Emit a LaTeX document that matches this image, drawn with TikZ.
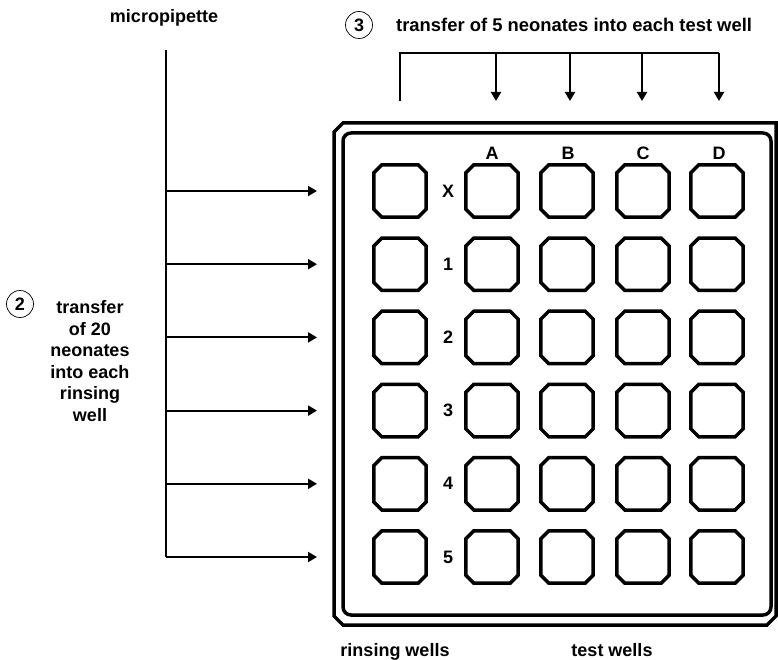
\documentclass[tikz,border=0pt]{standalone}
\usepackage{fontspec}
\setmainfont{Liberation Sans}
\usetikzlibrary{arrows.meta}
\begin{document}
\begin{tikzpicture}[x=1pt,y=-1pt,
  every node/.style={font=\fontsize{18}{21.6}\selectfont\bfseries, inner sep=0pt},
  wellbox/.style={minimum width=52pt, minimum height=52pt},
  wellline/.style={line width=3.5pt, line join=miter},
  arr/.style={line width=2pt, -{Triangle[length=9pt,width=10pt]}},
  plain/.style={line width=2pt},
  num/.style={draw, circle, line width=0.7pt, minimum size=27pt, font=\fontsize{18}{18}\selectfont\bfseries},
  plateline/.style={line width=3.5pt}]
\useasboundingbox (0,0) rectangle (778,660);
\newcommand{\octwell}[1]{%
  \draw[wellline] ([xshift=8pt]#1.north west) -- ([xshift=-8pt]#1.north east)
    -- ([yshift=-8pt]#1.north east) -- ([yshift=8pt]#1.south east)
    -- ([xshift=-8pt]#1.south east) -- ([xshift=8pt]#1.south west)
    -- ([yshift=8pt]#1.south west) -- ([yshift=-8pt]#1.north west) -- cycle;}
% plate
\draw[plateline] (334,132) -- (343,123) -- (776,123) -- (776,616) -- (767,625) -- (343,625) -- (334,616) -- cycle;
\draw[plateline, rounded corners=8pt] (343,133) rectangle (771,615);
% wells
\foreach \lab [count=\i from 0] in {X,1,2,3,4,5} {
  \pgfmathsetmacro{\yy}{191+\i*73.2}
  \node[wellbox] (rw\i) at (400,\yy) {};
  \octwell{rw\i}
  \node (rl\i) at (448,\yy) {\lab};
  \foreach \c/\cx in {A/492,B/567,C/643,D/717} {
    \node[wellbox] (w\c\i) at (\cx,\yy) {};
    \octwell{w\c\i}
  }
  \coordinate (s\i) at (166,\yy);
  \coordinate (t\i) at (317,\yy);
  \draw[arr] (s\i) -- (t\i);
}
\node (cA) at (492,153) {A};
\node (cB) at (568,153) {B};
\node (cC) at (643,153) {C};
\node (cD) at (719,153) {D};
% micropipette
\node (mp) at (164,18) {micropipette};
\coordinate (mtop) at (166,50);
\draw[plain] (mtop) -- (s5);
% step 2
\node[num] (n2) at (20,304) {2};
\node[align=center] (t2) at (90,361) {transfer\\of 20\\neonates\\into each\\rinsing\\well};
% step 3
\node[num] (n3) at (359,25) {3};
\node[anchor=west, font=\fontsize{18.4}{22}\selectfont\bfseries] (t3) at (396,25) {transfer of 5 neonates into each test well};
\coordinate (bl) at (400,101);
\coordinate (bt) at (400,53);
\coordinate (bD) at (719,53);
\draw[plain] (bl) -- (bt) -- (bD);
\foreach \x/\c in {496/A,570/B,642/C,719/D} {
  \coordinate (a\c) at (\x,53);
  \coordinate (e\c) at (\x,101);
  \draw[arr] (a\c) -- (e\c);
}
% bottom labels
\node[anchor=base] (rw) at (395,656) {rinsing wells};
\node[anchor=base] (tw) at (612,656) {test wells};
\end{tikzpicture}
\end{document}
